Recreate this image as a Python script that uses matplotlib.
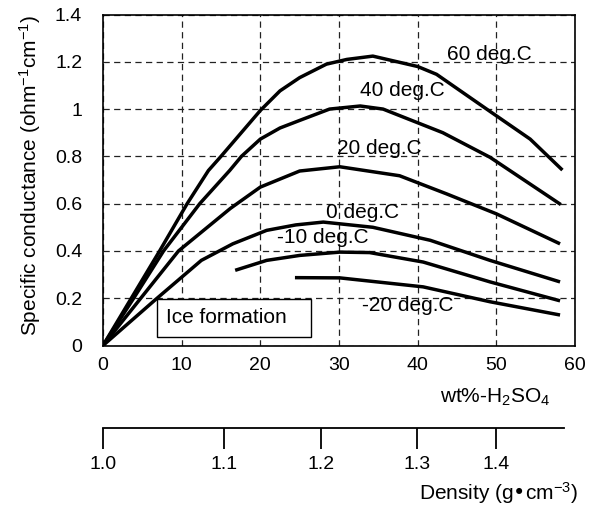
import matplotlib.pyplot as plt
from matplotlib.patches import Rectangle

plt.rcParams['font.family'] = ['Liberation Sans', 'DejaVu Sans']
plt.rcParams['mathtext.default'] = 'regular'

# wt% H2SO4 vs specific conductance (ohm^-1 cm^-1)
x_60 = [0, 3.6, 7.2, 10.7, 13.4, 15, 20, 22.5, 25, 28.4, 31, 34.3, 40, 42.4, 49.2, 54.3, 58.4]
y_60 = [0, 0.2, 0.4, 0.6, 0.74, 0.8, 0.994, 1.077, 1.133, 1.19, 1.21, 1.224, 1.18, 1.147, 0.99, 0.873, 0.742]

x_40 = [0, 3.9, 7.7, 12.3, 16.1, 17.6, 20, 22.5, 25, 28.8, 32.7, 35.6, 43.2, 49.2, 58.2]
y_40 = [0, 0.2, 0.4, 0.6, 0.74, 0.8, 0.873, 0.92, 0.952, 1.0, 1.013, 1.0, 0.9, 0.796, 0.596]

x_20 = [0, 4.8, 9.6, 16.2, 20, 25, 30.1, 37.7, 43.7, 50, 58.1]
y_20 = [0, 0.2, 0.4, 0.58, 0.67, 0.738, 0.756, 0.718, 0.641, 0.557, 0.43]

x_0 = [0, 6.7, 12.5, 16.5, 20.8, 24.5, 28, 34.3, 41.6, 49.2, 58.1]
y_0 = [0, 0.195, 0.36, 0.43, 0.487, 0.51, 0.522, 0.5, 0.445, 0.36, 0.269]

x_m10 = [16.8, 20.8, 25, 30.1, 33.9, 40.7, 49.2, 58.1]
y_m10 = [0.318, 0.36, 0.381, 0.395, 0.393, 0.353, 0.269, 0.189]

x_m20 = [24.4, 30.1, 40.7, 49.2, 58.1]
y_m20 = [0.287, 0.286, 0.248, 0.185, 0.129]

curve_x = [x_60, x_40, x_20, x_0, x_m10, x_m20]
curve_y = [y_60, y_40, y_20, y_0, y_m10, y_m20]
curve_labels = ['60 deg.C', '40 deg.C', '20 deg.C', '0 deg.C', '-10 deg.C', '-20 deg.C']
label_x = [43.7, 32.7, 29.7, 28.4, 22.1, 32.9]
label_y = [1.231, 1.077, 0.835, 0.564, 0.458, 0.171]

# density scale under the wt% axis: each density tick sits at the matching wt%
density_labels = ['1.0', '1.1', '1.2', '1.3', '1.4']
density_at_wt = [0, 15.4, 27.7, 39.9, 50.0]
density_end_wt = 58.6

fig = plt.figure(figsize=(5.96, 5.05), dpi=100)
ax = fig.add_axes([103 / 596, 1 - 345.5 / 505, 472 / 596, 331 / 505])

for xs, ys in zip(curve_x, curve_y):
    ax.plot(xs, ys, color='black', lw=2.5, solid_capstyle='butt', zorder=3)

for lab, lx, ly in zip(curve_labels, label_x, label_y):
    ax.text(lx, ly, lab, fontsize=15, va='center', ha='left', zorder=4)

ax.set_xlim(0, 60)
ax.set_ylim(0, 1.4)
ax.set_xticks(range(0, 61, 10))
ax.set_yticks([0, 0.2, 0.4, 0.6, 0.8, 1.0, 1.2, 1.4])
ax.set_yticklabels(['0', '0.2', '0.4', '0.6', '0.8', '1', '1.2', '1.4'])
ax.tick_params(length=0, labelsize=14)
ax.tick_params(axis='y', pad=15)
ax.tick_params(axis='x', pad=8)
ax.grid(True, color='#222222', lw=0.9, ls=(0, (5, 3.5)))
for s in ax.spines.values():
    s.set_linewidth(1.2)

fig.text(30 / 596, 1 - 176 / 505, 'Specific conductance (ohm$^{-1}$cm$^{-1}$)',
         fontsize=15, rotation=90, ha='center', va='center')

box = Rectangle((6.9, 0.037), 19.5, 0.158, facecolor='white', edgecolor='black', lw=1.0, zorder=2.5)
ax.add_patch(box)
ax.text(8.0, 0.117, 'Ice formation', fontsize=15, va='center', ha='left', zorder=4)

fig.text(550 / 596, 1 - 397 / 505, 'wt%-H$_2$SO$_4$', fontsize=15, ha='right', va='center')

ax2 = fig.add_axes([103 / 596, 1 - 428.3 / 505, 472 / 596, 0.001])
ax2.set_xlim(0, 60)
ax2.set_ylim(0, 1)
ax2.set_yticks([])
ax2.set_xticks(density_at_wt)
ax2.set_xticklabels(density_labels)
for side in ['left', 'right', 'top']:
    ax2.spines[side].set_visible(False)
ax2.spines['bottom'].set_bounds(0, density_end_wt)
ax2.spines['bottom'].set_linewidth(1.3)
ax2.tick_params(axis='x', direction='out', length=15, width=1.3, labelsize=14, pad=5)
ax2.patch.set_visible(False)

fig.text(578 / 596, 1 - 500 / 505, 'Density (g\u2022cm$^{-3}$)', fontsize=15, ha='right', va='baseline')

fig.savefig('out.png', dpi=100)
